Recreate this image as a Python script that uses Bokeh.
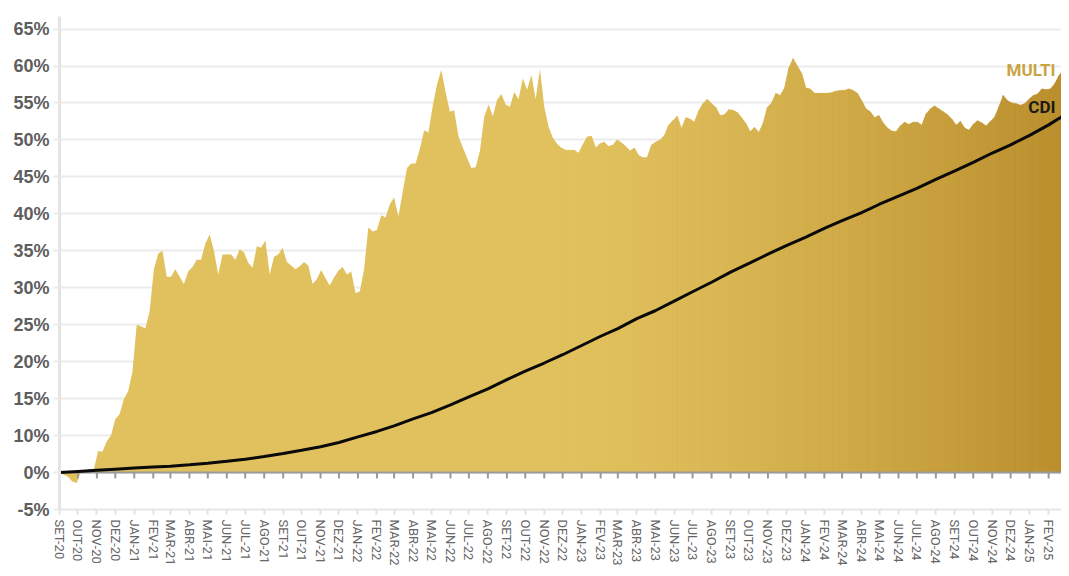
import math
import pandas as pd
from bokeh.plotting import figure
from bokeh.models import FixedTicker, Range1d
from bokeh.core.properties import value
from bokeh.embed import file_html
from bokeh.resources import INLINE

START = "2020-09-01"
END = "2025-02-22"

# MULTI cumulative return, weekly samples (plot units)
MULTI = [
    0, -0.3, -0.6, -1.2, -1.4, 0.1, 0.2, 0.5, 0.4, 2.9,
    2.8, 4.2, 5.0, 7.2, 7.9, 9.9, 11.0, 13.6, 20.0, 19.8,
    19.5, 21.8, 27.5, 29.6, 30.0, 26.5, 26.5, 27.5, 26.5, 25.5,
    27.2, 27.8, 28.8, 28.8, 31.0, 32.2, 30.0, 26.8, 29.5, 29.5,
    29.5, 28.8, 30.2, 29.8, 28.4, 27.7, 30.6, 30.4, 31.4, 26.8,
    29.2, 29.5, 30.4, 28.5, 28.0, 27.5, 27.9, 28.5, 28.0, 25.5,
    26.2, 27.4, 26.3, 25.3, 26.4, 27.3, 27.8, 26.8, 27.2, 24.3,
    24.5, 27.5, 33.2, 32.6, 32.8, 34.8, 34.5, 36.3, 37.2, 34.6,
    38.0, 41.2, 41.8, 41.8, 43.8, 46.3, 46.0, 49.6, 52.5, 54.5,
    51.5, 48.8, 49.0, 45.5, 44.0, 42.6, 41.2, 41.3, 43.5, 48.1,
    49.8, 48.2, 50.4, 51.2, 49.8, 49.5, 51.5, 50.5, 53.3, 51.8,
    53.8, 50.5, 54.6, 49.5, 46.8, 45.3, 44.5, 43.9, 43.6, 43.6,
    43.6, 43.2, 44.3, 45.4, 45.5, 43.9, 44.5, 44.7, 44.1, 44.3,
    45.0, 44.6, 44.1, 43.5, 43.9, 42.9, 42.6, 42.6, 44.3, 44.7,
    45.0, 45.6, 47.0, 47.6, 48.2, 46.5, 48.0, 47.8, 47.4, 48.9,
    49.9, 50.5, 49.9, 49.4, 48.3, 48.4, 49.1, 49.0, 48.7, 48.0,
    47.2, 46.1, 46.7, 46.0, 47.2, 49.4, 50.0, 51.3, 51.0, 52.0,
    54.7, 56.0, 55.0, 54.0, 52.0, 51.9, 51.3, 51.3, 51.3, 51.3,
    51.4, 51.6, 51.7, 51.7, 51.9, 51.7, 51.3, 50.3, 49.2, 48.8,
    48.0, 48.3, 47.3, 46.6, 46.2, 46.1, 46.9, 47.4, 47.1, 47.4,
    47.4, 47.0, 48.5, 49.2, 49.6, 49.2, 48.8, 48.4, 47.8, 47.0,
    47.5, 46.6, 46.3, 47.1, 47.6, 47.3, 46.9, 47.5, 48.1, 49.5,
    51.0, 50.3, 50.0, 49.9, 49.7, 49.9, 50.5, 51.0, 51.2, 51.9,
    51.8, 51.9, 52.6, 53.7, 54.5, 53.9,
]

# CDI cumulative, month starts
CDI = [
    0.0, 0.15, 0.30, 0.45, 0.60, 0.74, 0.86, 1.05, 1.25, 1.52,
    1.81, 2.17, 2.58, 3.01, 3.49, 4.07, 4.83, 5.56, 6.32, 7.26,
    8.10, 9.17, 10.23, 11.31, 12.56, 13.71, 14.82, 15.94, 17.19, 18.44,
    19.48, 20.82, 21.89, 23.20, 24.46, 25.75, 27.12, 28.30, 29.54, 30.69,
    31.82, 33.04, 34.07, 35.14, 36.30, 37.39, 38.44, 39.65, 40.82, 41.96,
    43.23, 44.33, 45.62, 47.04, 48.45,
]

X_TICK_LABELS = [
    "SET-20", "OUT-20", "NOV-20", "DEZ-20",
    "JAN-21", "FEV-21", "MAR-21", "ABR-21", "MAI-21", "JUN-21",
    "JUL-21", "AGO-21", "SET-21", "OUT-21", "NOV-21", "DEZ-21",
    "JAN-22", "FEV-22", "MAR-22", "ABR-22", "MAI-22", "JUN-22",
    "JUL-22", "AGO-22", "SET-22", "OUT-22", "NOV-22", "DEZ-22",
    "JAN-23", "FEV-23", "MAR-23", "ABR-23", "MAI-23", "JUN-23",
    "JUL-23", "AGO-23", "SET-23", "OUT-23", "NOV-23", "DEZ-23",
    "JAN-24", "FEV-24", "MAR-24", "ABR-24", "MAI-24", "JUN-24",
    "JUL-24", "AGO-24", "SET-24", "OUT-24", "NOV-24", "DEZ-24",
    "JAN-25", "FEV-25", "MAR-25",
]

Y_TICKS = [-5, 0, 5, 10, 15, 20, 25, 30, 35, 40, 45, 50, 55, 60]
Y_TICK_LABELS = ["-5%", "0%", "10%", "15%", "20%", "25%", "30%", "35%",
                 "40%", "45%", "50%", "55%", "60%", "65%"]

SERIES_NAMES = ["MULTI", "CDI"]


def ms(d):
    return int(pd.Timestamp(d).value // 10**6)


mx = [ms(d) for d in pd.date_range(START, periods=len(MULTI), freq="7D")]
cx = [ms(d) for d in pd.date_range(START, periods=len(CDI), freq="MS")]
tx = [ms(d) for d in pd.date_range(START, periods=len(X_TICK_LABELS), freq="MS")]
x0, x1 = ms(START), ms(END)

p = figure(width=1061, height=568, x_axis_type="datetime",
           x_range=Range1d(x0, x1), y_range=Range1d(-5, 61.7),
           output_backend="svg", toolbar_location=None,
           min_border_left=59, min_border_right=0, min_border_top=16,
           min_border_bottom=56)
p.outline_line_color = None
p.background_fill_color = "white"
p.border_fill_color = "white"

# grid
p.xgrid.visible = False
p.ygrid.ticker = FixedTicker(ticks=Y_TICKS)
p.ygrid.grid_line_color = "#ececec"
p.ygrid.grid_line_width = 2

# y axis
p.yaxis.ticker = FixedTicker(ticks=Y_TICKS)
p.yaxis.major_label_overrides = dict(zip(Y_TICKS, Y_TICK_LABELS))
p.yaxis.axis_line_color = "#e4e4e4"
p.yaxis.axis_line_width = 3
p.yaxis.major_tick_line_color = "#ececec"
p.yaxis.major_tick_line_width = 2
p.yaxis.major_tick_out = 6
p.yaxis.major_tick_in = 0
p.yaxis.minor_tick_line_color = None
p.yaxis.major_label_text_font = "Liberation Sans"
p.yaxis.major_label_text_font_style = "bold"
p.yaxis.major_label_text_font_size = "18px"
p.yaxis.major_label_text_color = "#5e5e5e"
p.yaxis.major_label_standoff = 4

# x axis
p.xaxis.ticker = FixedTicker(ticks=tx)
p.xaxis.major_label_overrides = dict(zip(tx, X_TICK_LABELS))
p.xaxis.axis_line_color = "#e6e6e6"
p.xaxis.axis_line_width = 2
p.xaxis.major_tick_line_color = "#e2e2e2"
p.xaxis.major_tick_line_width = 2
p.xaxis.major_tick_out = 5
p.xaxis.major_tick_in = 0
p.xaxis.minor_tick_line_color = None
p.xaxis.major_label_orientation = -math.pi / 2
p.xaxis.major_label_text_font = "Roboto"
p.xaxis.major_label_text_font_size = "13px"
p.xaxis.major_label_text_color = "#666666"
p.xaxis.major_label_standoff = 5

# area (base colour)
C0 = (225, 193, 94)
C1 = (186, 142, 44)
p.varea(x=mx, y1=[0] * len(MULTI), y2=MULTI,
        fill_color="#%02x%02x%02x" % C0, fill_alpha=1.0)

# gradient overlay towards the right
xs, ys, cols = [], [], []
span = x1 - x0
for k in range(len(MULTI) - 1):
    f = min(1.0, ((mx[k] + mx[k + 1]) / 2 - x0) / span)
    t = max(0.0, (f - 0.5) / 0.5) ** 1.4
    if t <= 0:
        continue
    c = tuple(int(round(C0[i] + (C1[i] - C0[i]) * t)) for i in range(3))
    xs.append([mx[k], mx[k], mx[k + 1], mx[k + 1]])
    ys.append([0, MULTI[k], MULTI[k + 1], 0])
    cols.append("#%02x%02x%02x" % c)
p.patches(xs=xs, ys=ys, fill_color=cols, line_color=cols, line_width=0.6)

# zero line with ticks
p.hspan(y=[0], line_color="#9a9a9a", line_width=2)
p.ray(x=tx, y=[0] * len(tx), length=6, angle=-math.pi / 2,
      length_units="screen", line_color="#9a9a9a", line_width=2)

# CDI line
p.line(x=cx, y=CDI, line_color="#0a0a0a", line_width=3)

# series labels
p.text(x=[x1], y=[MULTI[-1]], text=[SERIES_NAMES[0]], x_offset=-6, y_offset=-4,
       text_align="right", text_baseline="middle",
       text_font=value("Roboto"), text_font_style="bold",
       text_font_size="17px", text_color="#c9a443")
p.text(x=[x1], y=[CDI[-1]], text=[SERIES_NAMES[1]], x_offset=-6, y_offset=-7,
       text_align="right", text_baseline="middle",
       text_font=value("Roboto"), text_font_style="bold",
       text_font_size="17px", text_color="#1a1a1a")

open("out.html", "w").write(file_html(p, INLINE))
